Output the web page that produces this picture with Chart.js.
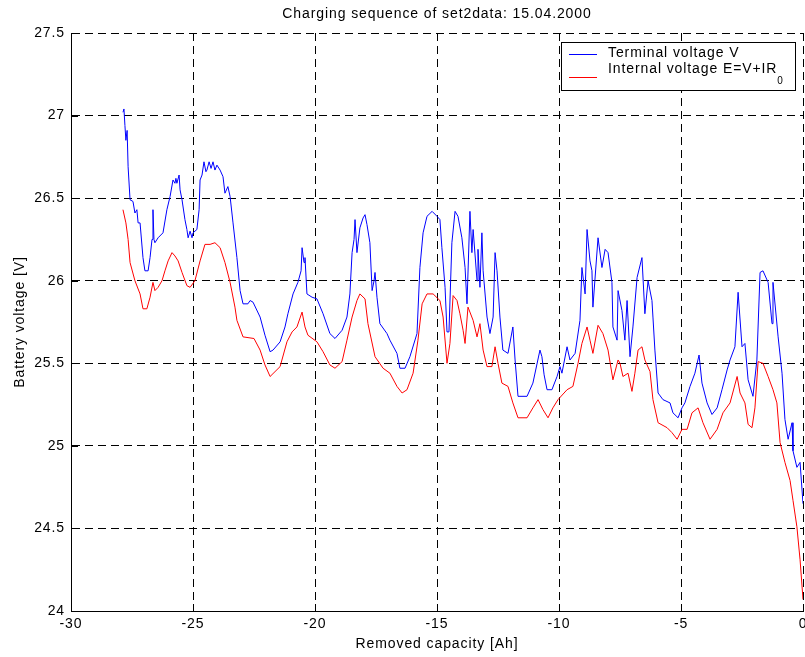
<!DOCTYPE html>
<html>
<head>
<meta charset="utf-8">
<script src="https://cdn.jsdelivr.net/npm/chart.js@4.4.1/dist/chart.umd.min.js"></script>
<style>
  html, body { margin: 0; padding: 0; background: #fff; }
  #wrap { width: 805px; height: 657px; }
</style>
</head>
<body>
<div id="wrap"><canvas id="c" width="805" height="657"></canvas></div>
<script>
// ---------- data ----------
const chartTitle = 'Charging sequence of set2data: 15.04.2000';
const xAxisTitle = 'Removed capacity [Ah]';
const yAxisTitle = 'Battery voltage [V]';
const seriesLabels = ['Terminal voltage V', 'Internal voltage E=V+IR\u2080'];

const xTickValues = [-30, -25, -20, -15, -10, -5, 0];
const yTickValues = [24, 24.5, 25, 25.5, 26, 26.5, 27, 27.5];

// Terminal voltage V (blue)
const capacityV = [-27.87,-27.83,-27.79,-27.75,-27.70,-27.66,-27.58,-27.46,-27.38,-27.30,
  -27.25,-27.17,-27.05,-26.97,-26.84,-26.76,-26.68,-26.64,-26.60,-26.56,
  -26.43,-26.23,-26.07,-25.94,-25.82,-25.74,-25.70,-25.66,-25.57,-25.53,
  -25.45,-25.33,-25.25,-25.20,-25.12,-25.04,-25.00,-24.84,-24.75,-24.71,
  -24.63,-24.55,-24.47,-24.43,-24.34,-24.26,-24.18,-24.10,-24.02,-23.89,
  -23.77,-23.69,-23.57,-23.48,-23.36,-23.20,-23.07,-22.95,-22.75,-22.66,
  -22.54,-22.25,-22.05,-21.84,-21.72,-21.43,-21.23,-21.11,-20.90,-20.70,
  -20.57,-20.53,-20.45,-20.41,-20.33,-20.12,-19.92,-19.67,-19.39,-19.18,
  -18.89,-18.69,-18.57,-18.48,-18.40,-18.36,-18.28,-18.16,-18.03,-17.95,
  -17.87,-17.75,-17.66,-17.58,-17.54,-17.46,-17.34,-17.05,-16.93,-16.64,
  -16.52,-16.31,-16.11,-15.82,-15.70,-15.57,-15.41,-15.20,-15.00,-14.88,
  -14.80,-14.67,-14.59,-14.51,-14.39,-14.26,-14.14,-13.98,-13.85,-13.77,
  -13.65,-13.57,-13.52,-13.36,-13.32,-13.24,-13.16,-13.11,-12.95,-12.83,
  -12.70,-12.62,-12.54,-12.42,-12.30,-12.09,-11.89,-11.80,-11.68,-11.31,
  -11.07,-10.78,-10.70,-10.61,-10.49,-10.29,-10.08,-9.96,-9.88,-9.67,
  -9.55,-9.34,-9.14,-9.06,-8.93,-8.85,-8.73,-8.65,-8.61,-8.40,
  -8.24,-8.11,-7.99,-7.83,-7.79,-7.62,-7.58,-7.42,-7.30,-7.21,
  -7.09,-6.97,-6.80,-6.60,-6.48,-6.35,-6.19,-6.15,-6.07,-5.94,
  -5.74,-5.45,-5.33,-5.12,-4.96,-4.84,-4.63,-4.43,-4.26,-4.14,
  -3.93,-3.73,-3.52,-3.32,-3.11,-2.99,-2.79,-2.66,-2.50,-2.38,
  -2.25,-2.05,-1.89,-1.76,-1.64,-1.43,-1.27,-1.23,-1.02,-0.86,
  -0.74,-0.61,-0.45,-0.41,-0.25,-0.12,0.00];
const voltageV = [27.02,27.04,26.94,26.85,26.91,26.69,26.49,26.48,26.41,26.43,
  26.35,26.35,26.14,26.06,26.06,26.14,26.25,26.43,26.25,26.23,
  26.26,26.29,26.43,26.51,26.61,26.59,26.62,26.59,26.64,26.55,
  26.49,26.37,26.31,26.26,26.30,26.26,26.29,26.31,26.43,26.61,
  26.64,26.72,26.66,26.67,26.72,26.68,26.72,26.67,26.70,26.67,
  26.63,26.53,26.57,26.51,26.35,26.14,25.94,25.86,25.86,25.88,
  25.87,25.78,25.67,25.57,25.58,25.63,25.72,25.80,25.92,25.99,
  26.06,26.20,26.11,26.14,25.92,25.90,25.89,25.80,25.68,25.65,
  25.70,25.78,25.92,26.17,26.25,26.37,26.17,26.32,26.38,26.40,
  26.34,26.23,25.94,26.00,26.05,25.90,25.74,25.68,25.64,25.56,
  25.47,25.47,25.54,25.68,26.08,26.29,26.39,26.42,26.39,26.37,
  26.20,25.96,25.69,25.69,26.23,26.42,26.39,26.26,26.08,25.86,
  26.42,26.17,26.31,26.00,26.19,25.96,26.29,26.06,25.78,25.68,
  25.78,26.17,26.06,25.78,25.58,25.56,25.72,25.52,25.30,25.30,
  25.38,25.58,25.54,25.43,25.34,25.34,25.42,25.48,25.44,25.60,
  25.52,25.56,25.76,26.08,25.92,26.31,26.12,26.06,25.84,26.26,
  26.08,26.19,26.17,25.99,25.72,25.64,25.94,25.82,25.64,25.88,
  25.54,25.72,26.02,26.14,25.80,26.00,25.88,25.78,25.58,25.32,
  25.28,25.26,25.20,25.17,25.23,25.26,25.36,25.44,25.55,25.38,
  25.26,25.19,25.23,25.34,25.46,25.52,25.60,25.93,25.60,25.62,
  25.40,25.30,25.52,26.05,26.06,25.99,25.74,25.99,25.66,25.44,
  25.16,25.04,25.14,24.97,24.87,24.90,24.65];

// Internal voltage E = V + I*R0 (red)
const capacityE = [-27.87,-27.75,-27.66,-27.58,-27.38,-27.17,-27.05,-26.89,-26.76,-26.64,
  -26.56,-26.43,-26.27,-26.15,-26.02,-25.86,-25.74,-25.61,-25.45,-25.25,
  -25.12,-24.92,-24.71,-24.51,-24.30,-24.10,-23.89,-23.69,-23.48,-23.28,
  -23.20,-22.95,-22.50,-22.25,-22.05,-21.84,-21.43,-21.15,-20.94,-20.74,
  -20.53,-20.41,-20.29,-19.92,-19.67,-19.39,-19.18,-18.89,-18.69,-18.48,
  -18.28,-18.16,-17.95,-17.83,-17.54,-17.21,-16.93,-16.64,-16.43,-16.23,
  -15.98,-15.78,-15.61,-15.41,-15.16,-14.88,-14.75,-14.59,-14.47,-14.34,
  -14.18,-14.06,-13.93,-13.85,-13.73,-13.52,-13.36,-13.24,-13.11,-12.95,
  -12.75,-12.62,-12.50,-12.34,-12.09,-11.89,-11.68,-11.31,-11.07,-10.86,
  -10.66,-10.45,-10.25,-10.04,-9.67,-9.43,-9.22,-9.06,-8.85,-8.73,
  -8.61,-8.40,-8.20,-7.99,-7.79,-7.58,-7.50,-7.38,-7.17,-7.01,
  -6.89,-6.76,-6.60,-6.48,-6.27,-6.15,-5.94,-5.57,-5.37,-5.16,
  -4.96,-4.75,-4.55,-4.30,-4.10,-3.81,-3.52,-3.28,-2.99,-2.70,
  -2.58,-2.38,-2.25,-2.09,-1.97,-1.84,-1.64,-1.43,-1.23,-1.07,
  -0.94,-0.74,-0.53,-0.41,-0.25,-0.12,0.00];
const voltageE = [26.43,26.35,26.25,26.11,26.00,25.92,25.83,25.83,25.90,25.99,
  25.94,25.96,26.00,26.06,26.12,26.17,26.15,26.12,26.05,25.97,
  25.96,26.00,26.12,26.22,26.22,26.23,26.20,26.11,25.99,25.84,
  25.76,25.66,25.65,25.58,25.49,25.42,25.48,25.63,25.69,25.72,
  25.81,25.72,25.67,25.63,25.57,25.49,25.47,25.51,25.64,25.78,
  25.88,25.92,25.89,25.74,25.54,25.47,25.44,25.36,25.32,25.34,
  25.44,25.64,25.86,25.92,25.92,25.88,25.78,25.50,25.62,25.91,
  25.88,25.80,25.70,25.62,25.84,25.76,25.66,25.74,25.58,25.48,
  25.48,25.60,25.50,25.38,25.36,25.26,25.17,25.17,25.23,25.28,
  25.22,25.17,25.23,25.28,25.34,25.36,25.50,25.62,25.72,25.64,
  25.56,25.73,25.68,25.58,25.40,25.52,25.50,25.42,25.44,25.33,
  25.44,25.58,25.60,25.52,25.45,25.28,25.14,25.11,25.08,25.04,
  25.10,25.10,25.20,25.23,25.14,25.04,25.10,25.20,25.26,25.42,
  25.32,25.26,25.13,25.11,25.23,25.51,25.50,25.42,25.34,25.26,
  25.02,24.90,24.79,24.67,24.51,24.31,24.07];

const seriesColors = ['#0000ff', '#ff0000'];

// ---------- chart ----------
const FONT_FAMILY = '"Liberation Sans", Arial, Helvetica, sans-serif';
const baseFont = { family: FONT_FAMILY, size: 14 };
const SPACING = '0.9px';

const toPoints = (xs, ys) => xs.map((x, i) => ({ x: x, y: ys[i] }));

const matlabLook = {
  id: 'matlabLook',
  beforeDraw(chart) {
    chart.ctx.letterSpacing = SPACING;
  },
  afterDraw(chart) {
    const ctx = chart.ctx;
    const ca = chart.chartArea;
    const xs = chart.scales.x, ys = chart.scales.y;
    ctx.save();
    ctx.letterSpacing = SPACING;
    // inward tick marks
    ctx.strokeStyle = '#000';
    ctx.lineWidth = 1;
    ctx.setLineDash([]);
    ctx.beginPath();
    xTickValues.forEach(v => {
      const px = Math.round(xs.getPixelForValue(v)) + 0.5;
      ctx.moveTo(px, ca.bottom);
      ctx.lineTo(px, ca.bottom - 7);
    });
    yTickValues.forEach(v => {
      const py = Math.round(ys.getPixelForValue(v)) + 0.5;
      ctx.moveTo(ca.left, py);
      ctx.lineTo(ca.left + 7, py);
    });
    ctx.stroke();

    // title
    ctx.fillStyle = '#000';
    ctx.font = '14px ' + FONT_FAMILY;
    ctx.textAlign = 'center';
    ctx.textBaseline = 'middle';
    ctx.fillText(chartTitle, (ca.left + ca.right) / 2, 14);

    // legend box
    const bw = 235, bh = 49;
    const bx = Math.round(ca.right - 7 - bw);
    const by = Math.round(ca.top + 9);
    ctx.fillStyle = '#fff';
    ctx.fillRect(bx, by, bw, bh);
    ctx.strokeStyle = '#000';
    ctx.strokeRect(bx + 0.5, by + 0.5, bw - 1, bh - 1);

    const lineYs = [by + 12, by + 35];
    const textYs = [by + 11, by + 27];
    chart.data.datasets.forEach((ds, i) => {
      ctx.strokeStyle = ds.borderColor;
      ctx.lineWidth = 1;
      ctx.beginPath();
      ctx.moveTo(bx + 8, lineYs[i] + 0.5);
      ctx.lineTo(bx + 36, lineYs[i] + 0.5);
      ctx.stroke();

      ctx.fillStyle = '#000';
      ctx.textAlign = 'left';
      ctx.textBaseline = 'middle';
      ctx.font = '14px ' + FONT_FAMILY;
      const label = ds.label;
      const subIdx = label.indexOf('\u2080');
      if (subIdx >= 0) {
        const main = label.slice(0, subIdx);
        ctx.fillText(main, bx + 47, textYs[i]);
        const w = ctx.measureText(main).width;
        ctx.font = '10px ' + FONT_FAMILY;
        ctx.fillText('0', bx + 47 + w, textYs[i] + 12);
      } else {
        ctx.fillText(label, bx + 47, textYs[i]);
      }
    });
    ctx.restore();
  }
};

const gridOpts = { color: '#000', lineWidth: 1, drawTicks: false };
const borderOpts = { display: true, color: '#000', width: 1, dash: [8, 5] };

new Chart(document.getElementById('c'), {
  type: 'line',
  data: {
    datasets: [
      { label: seriesLabels[0], data: toPoints(capacityV, voltageV), borderColor: seriesColors[0],
        backgroundColor: seriesColors[0], borderWidth: 1, pointRadius: 0, tension: 0, fill: false },
      { label: seriesLabels[1], data: toPoints(capacityE, voltageE), borderColor: seriesColors[1],
        backgroundColor: seriesColors[1], borderWidth: 1, pointRadius: 0, tension: 0, fill: false }
    ]
  },
  options: {
    responsive: false,
    animation: false,
    parsing: false,
    layout: { padding: { top: 33, right: 2, bottom: 0, left: 0 } },
    plugins: {
      legend: { display: false },
      title: { display: false },
      tooltip: { enabled: false }
    },
    scales: {
      x: {
        type: 'linear', min: -30, max: 0,
        afterBuildTicks(s) { s.ticks = xTickValues.map(v => ({ value: v })); },
        afterFit(s) { s.height = 46; s.paddingLeft = 0; s.paddingRight = 0; },
        ticks: { callback: v => String(v), font: baseFont, color: '#000', padding: 5, maxRotation: 0, autoSkip: false },
        grid: gridOpts,
        border: borderOpts,
        title: { display: true, text: xAxisTitle, font: baseFont, color: '#000', padding: { top: 0, bottom: 4 } }
      },
      y: {
        type: 'linear', min: 24, max: 27.5,
        afterBuildTicks(s) { s.ticks = yTickValues.map(v => ({ value: v })); },
        afterFit(s) { s.width = 71; s.paddingTop = 0; s.paddingBottom = 0; },
        ticks: { callback: v => String(v), font: baseFont, color: '#000', padding: 6, autoSkip: false },
        grid: gridOpts,
        border: borderOpts,
        title: { display: true, text: yAxisTitle, font: baseFont, color: '#000', padding: { top: 12, bottom: 0 } }
      }
    }
  },
  plugins: [matlabLook]
});
</script>
</body>
</html>
